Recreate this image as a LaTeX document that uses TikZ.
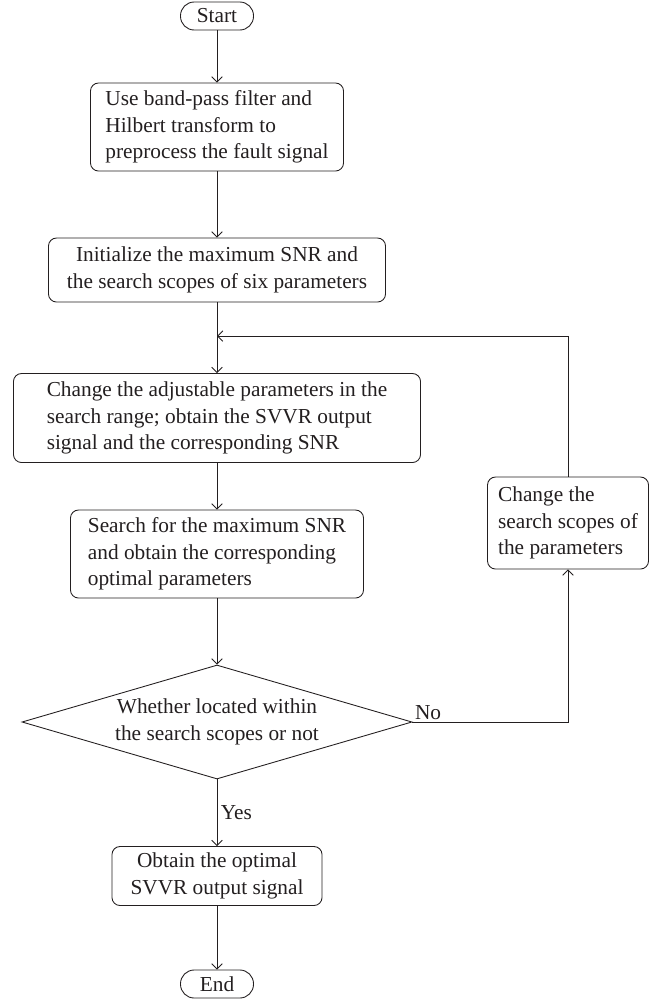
\documentclass[tikz,border=0pt]{standalone}
\usepackage{fontspec}
\setmainfont{Liberation Serif}
\usetikzlibrary{shapes.geometric,arrows.meta}

\definecolor{ink}{RGB}{35,31,32}

\tikzset{
  flow/.style={draw=ink,line width=0.75pt,rounded corners=0.24cm,inner sep=0pt,align=left},
  term/.style={draw=ink,line width=0.75pt,rounded corners=0.41cm,minimum width=2.19cm,minimum height=0.84cm,inner sep=0pt},
  test/.style={draw=ink,line width=0.75pt,diamond,aspect=3.4,inner sep=0pt,minimum width=11.7cm,minimum height=3.42cm,align=center},
  link/.style={draw=ink,line width=0.75pt,-{Straight Barb[length=4.5pt,width=9pt]}}
}

\begin{document}
\begin{tikzpicture}[x=0.03cm,y=-0.03cm,font=\fontsize{18.2}{22.5}\selectfont,text=ink]
  \useasboundingbox (0,0) rectangle (664,1002);
  \node [term] (start) at (217,16) {Start};
  \node [flow,minimum width=7.59cm,minimum height=2.64cm] (filter) at (217,127)
    {Use band-pass filter and\\Hilbert transform to\\preprocess the fault signal};
  \node [flow,align=center,minimum width=10.11cm,minimum height=1.92cm] (init) at (217,270)
    {Initialize the maximum SNR and\\the search scopes of six parameters};
  \coordinate (join) at (217,336);
  \node [flow,minimum width=12.21cm,minimum height=2.67cm] (change) at (217,418)
    {Change the adjustable parameters in the\\search range; obtain the SVVR output\\signal and the corresponding SNR};
  \node [flow,minimum width=8.79cm,minimum height=2.64cm] (best) at (217,554)
    {Search for the maximum SNR\\and obtain the corresponding\\optimal parameters};
  \node [test] (within) at (217,722) {Whether located within\\the search scopes or not};
  \node [flow,minimum width=4.83cm,minimum height=2.76cm] (scope) at (568,523)
    {Change the\\search scopes of\\the parameters};
  \node [flow,align=center,minimum width=6.3cm,minimum height=1.77cm] (output) at (217,876)
    {Obtain the optimal\\SVVR output signal};
  \node [term] (end) at (217,984) {End};

  \draw [link] (start) -- (filter);
  \draw [link] (filter) -- (init);
  \draw [draw=ink,line width=0.75pt] (init) -- (join);
  \draw [link] (join) -- (change);
  \draw [link] (change) -- (best);
  \draw [link] (best) -- (within);
  \draw [link] (within.east) -- (scope |- within.east) -- (scope);
  \draw [link] (scope) |- (join);
  \draw [link] (within) -- (output) node [pos=0.5,right,inner sep=3pt] {Yes};
  \draw [link] (output) -- (end);
  \node [above right,inner sep=2pt] (no) at (within.east) {No};
\end{tikzpicture}
\end{document}
